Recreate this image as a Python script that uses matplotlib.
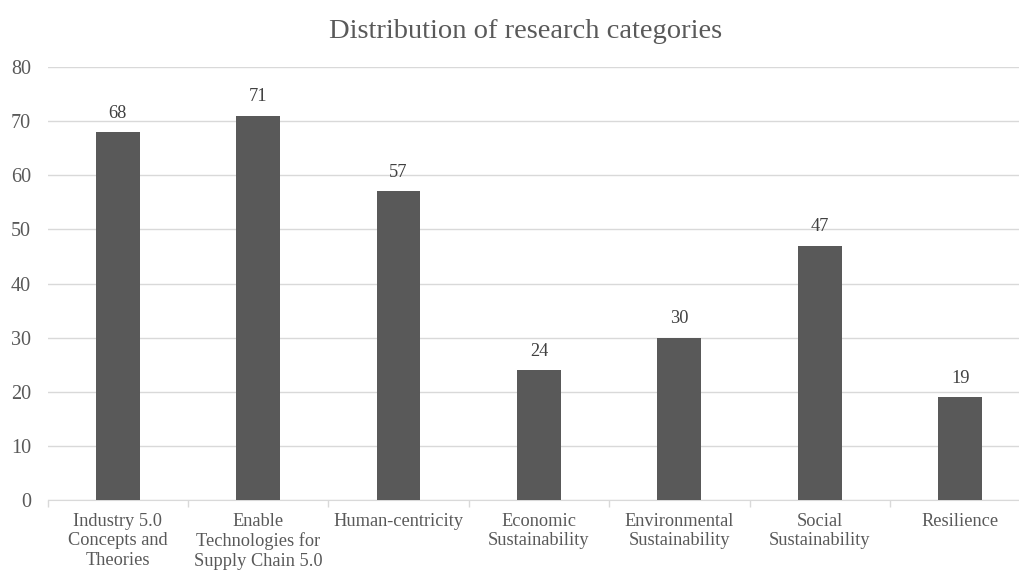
import matplotlib
matplotlib.use("Agg")
import matplotlib.pyplot as plt
import numpy as np

categories = ["Industry 5.0\nConcepts and\nTheories", "Enable\nTechnologies for\nSupply Chain 5.0",
              "Human-centricity", "Economic\nSustainability", "Environmental\nSustainability",
              "Social\nSustainability", "Resilience"]
values = [68, 71, 57, 24, 30, 47, 19]
yticks = [0, 10, 20, 30, 40, 50, 60, 70, 80]
title = "Distribution of research categories"

plt.rcParams['font.family'] = ['Liberation Serif', 'DejaVu Serif']
txt = '#595959'

fig = plt.figure(figsize=(10.2, 5.71), dpi=100)
ax = fig.add_axes([0.0466, 0.1243, 0.9635, 0.7584])
ax.set_clip_on(False)
x = np.arange(len(categories))
bars = ax.bar(x, values, width=0.313, color='#595959', zorder=3)
for xi, v in zip(x, values):
    ax.annotate(str(v), (xi, v), xytext=(0, 7.5), textcoords='offset points',
                ha='center', va='bottom', fontsize=13.2, color='#404040')
ax.set_xlim(-0.5, len(categories) - 0.5)
ax.set_ylim(0, 80)
ax.set_yticks(yticks)
ax.set_yticklabels([str(t) for t in yticks], fontsize=14.5, color=txt)
ax.grid(axis='y', color='#d9d9d9', linewidth=1, zorder=0)
ax.set_xticks(x)
ax.set_xticklabels(categories, fontsize=13.2, color=txt, linespacing=1.22)
ax.tick_params(axis='x', length=0, pad=9)
ax.set_xticks(np.arange(-0.5, len(categories)), minor=True)
ax.tick_params(axis='x', which='minor', length=5, color='#d9d9d9', width=1)
ax.tick_params(axis='y', length=0, pad=12)
for s in ['top', 'right', 'left']:
    ax.spines[s].set_visible(False)
ax.spines['bottom'].set_color('#d9d9d9')
fig.text(0.515, 0.945, title, ha='center', va='center', fontsize=20.5, color=txt)
fig.savefig('out.png', dpi=100)
